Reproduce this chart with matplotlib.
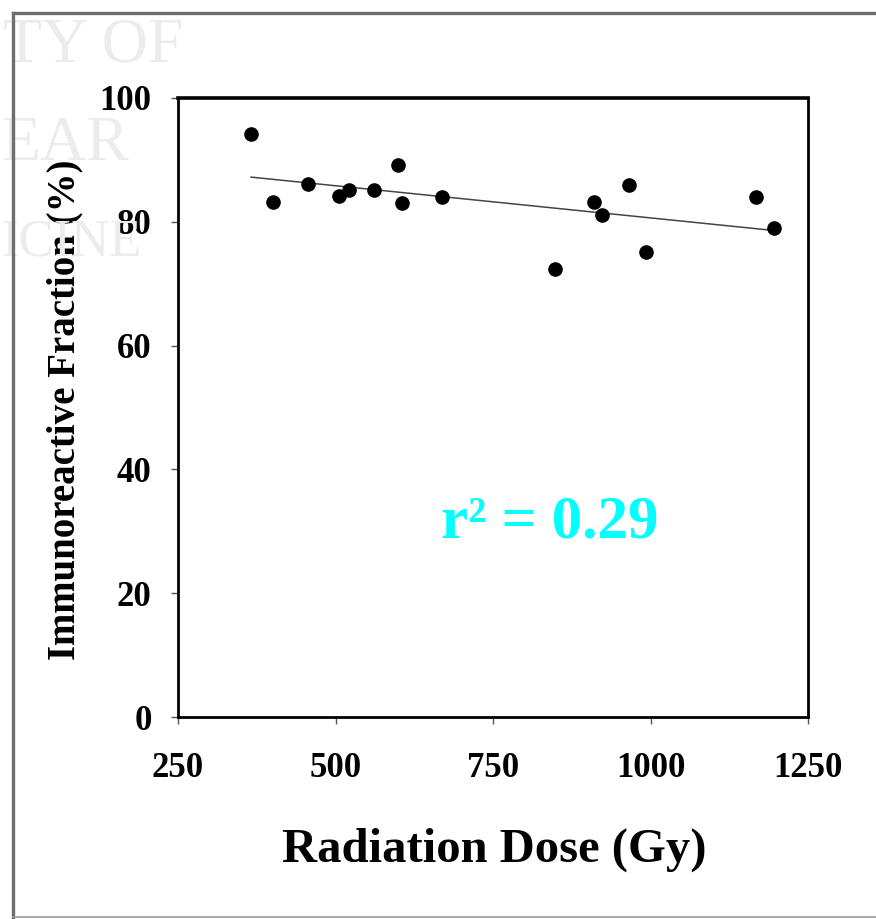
import numpy as np
import matplotlib.pyplot as plt
from matplotlib.lines import Line2D

# values
dose=[366,401,456,505,521,561,599,606,669,848,910,923,966,993,1167,1196]
immuno=[94.2,83.2,86.1,84.2,85.2,85.1,89.1,83.1,84.0,72.3,83.2,81.1,86.0,75.1,84.0,79.0]
x_ticks=[250,500,750,1000,1250]
y_ticks=[0,20,40,60,80,100]
r2_text="r² = 0.29"

W,H=876,919
fig=plt.figure(figsize=(W/100,H/100),dpi=100)
plt.rcParams['font.family']=['Liberation Serif','DejaVu Serif']

# faded watermark behind the plot (only the visible fragments)
wm=dict(color='#ececec',ha='left',va='baseline',family='Liberation Serif',zorder=0)
fig.text(3/W,1-62/H,"TY OF",fontsize=46,**wm)
fig.text(1/W,1-160/H,"EAR",fontsize=46,**wm)
fig.text(1/W,1-255/H,"ICINE",fontsize=38,**wm)

# outer frame of the slide
frame_col='#6e6e6e'
fig.add_artist(Line2D([13/W,13/W],[1-13/H,1-917/H],color=frame_col,lw=2.4,transform=fig.transFigure))
fig.add_artist(Line2D([13/W,1],[1-13/H,1-13/H],color=frame_col,lw=2.4,transform=fig.transFigure))
fig.add_artist(Line2D([13/W,1],[1-917/H,1-917/H],color='#9a9a9a',lw=1.2,transform=fig.transFigure))

ax=fig.add_axes([178/W,1-717/H,630/W,619/H])
ax.set_facecolor('none')

ax.plot(dose,immuno,'o',color='black',ms=9.5,zorder=3)

# linear fit
k,b=np.polyfit(dose,immuno,1)
xs=np.array([min(dose),max(dose)])
ax.plot(xs,k*xs+b,color='#444444',lw=1.1,zorder=2)

ax.set_xlim(250,1250)
ax.set_ylim(0,100)
ax.set_xticks(x_ticks)
ax.set_yticks(y_ticks)
ax.tick_params(direction='out',length=5,width=1,color='#555555')
ax.tick_params(axis='x',pad=20)
ax.tick_params(axis='y',pad=14)
for lab in ax.get_xticklabels()+ax.get_yticklabels():
	lab.set_fontsize(25)
	lab.set_fontweight('bold')
for s in ax.spines.values():
	s.set_linewidth(2)
ax.spines['top'].set_linewidth(2.6)

ax.set_xlabel("Radiation Dose (Gy)",fontsize=35,fontweight='bold')
ax.xaxis.set_label_coords(0.502,-0.178)
ax.set_ylabel("Immunoreactive Fraction (%)",fontsize=28,fontweight='bold')
ax.yaxis.set_label_coords(-0.150,0.496)

ax.text(840,31.5,r2_text,color='#00ffff',fontsize=44,fontweight='bold',ha='center',va='center')

fig.savefig("out.png",dpi=100)
